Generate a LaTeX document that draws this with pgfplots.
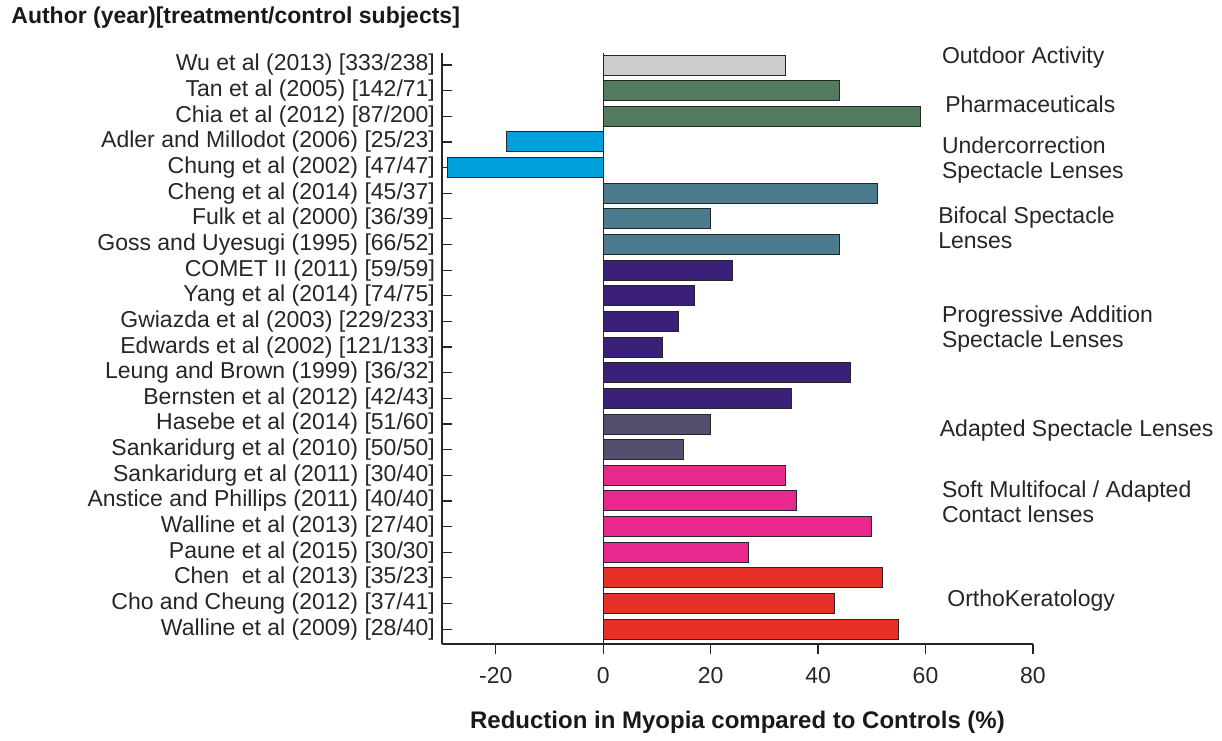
\documentclass[border=0pt]{standalone}
\usepackage{fontspec}
\setmainfont{Liberation Sans}
\usepackage{pgfplots}
\pgfplotsset{compat=1.18}

\definecolor{cOut}{HTML}{CDCDCD}
\definecolor{cPha}{HTML}{527A5C}
\definecolor{cUnd}{HTML}{00A0DC}
\definecolor{cBif}{HTML}{4D7B8E}
\definecolor{cPro}{HTML}{3A2079}
\definecolor{cAda}{HTML}{52506E}
\definecolor{cSof}{HTML}{E8288C}
\definecolor{cOrt}{HTML}{E63028}

\begin{document}
\begin{tikzpicture}
\begin{axis}[
    name=ax,
    scale only axis,
    width=295.5pt, height=295.5pt,
    xbar, bar width=0.78, bar shift=0pt,
    xmin=-30, xmax=80,
    ymin=0.42, ymax=23.47,
    xtick={-20,0,20,40,60,80},
    ytick={1,...,23},
    yticklabels={
        Walline et al (2009) [28/40],
        Cho and Cheung (2012) [37/41],
        Chen\ \ et al (2013) [35/23],
        Paune et al (2015) [30/30],
        Walline et al (2013) [27/40],
        Anstice and Phillips (2011) [40/40],
        Sankaridurg et al (2011) [30/40],
        Sankaridurg et al (2010) [50/50],
        Hasebe et al (2014) [51/60],
        Bernsten et al (2012) [42/43],
        Leung and Brown (1999) [36/32],
        Edwards et al (2002) [121/133],
        Gwiazda et al (2003) [229/233],
        Yang et al (2014) [74/75],
        COMET II (2011) [59/59],
        Goss and Uyesugi (1995) [66/52],
        Fulk et al (2000) [36/39],
        Cheng et al (2014) [45/37],
        Chung et al (2002) [47/47],
        Adler and Millodot (2006) [25/23],
        Chia et al (2012) [87/200],
        Tan et al (2005) [142/71],
        Wu et al (2013) [333/238]},
    axis x line*=bottom, axis y line*=left,
    axis line style={-, black!85, line width=0.6pt},
    tick align=inside, major tick length=5pt,
    xtick style={yshift=-5pt, black!85, line width=0.6pt},
    ytick style={black!85, line width=0.6pt},
    xticklabel style={yshift=-8pt},
    ticklabel style={font=\fontsize{11.5}{13}\selectfont, text=black!85},
    /pgf/number format/assume math mode=true,
    xlabel={Reduction in Myopia compared to Controls (\%)},
    xlabel style={font=\bfseries\fontsize{12}{14}\selectfont, text=black!90,
        at={(axis description cs:0.5,0)}, anchor=center, yshift=-39pt},
    every axis plot/.append style={draw=black!85, line width=0.5pt},
    clip=false,
]
\addplot[fill=cOut] coordinates {(34,23)};
\addplot[fill=cPha] coordinates {(44,22) (59,21)};
\addplot[fill=cUnd] coordinates {(-18,20) (-29,19)};
\addplot[fill=cBif] coordinates {(51,18) (20,17) (44,16)};
\addplot[fill=cPro] coordinates {(24,15) (17,14) (14,13) (11,12) (46,11) (35,10)};
\addplot[fill=cAda] coordinates {(20,9) (15,8)};
\addplot[fill=cSof] coordinates {(34,7) (36,6) (50,5) (27,4)};
\addplot[fill=cOrt] coordinates {(52,3) (43,2) (55,1)};

\draw[black!85, line width=0.6pt] (axis cs:0,0.42) -- (axis cs:0,23.47);

\begin{scope}[every node/.style={anchor=west, inner sep=0pt, align=left,
        font=\fontsize{11.5}{12.5}\selectfont, text=black!85}]
\node at (axis cs:63,23.31) {Outdoor Activity};
\node at (axis cs:63.6,21.48) {Pharmaceuticals};
\node at (axis cs:63,19.31) {Undercorrection\\Spectacle Lenses};
\node at (axis cs:62.3,16.64) {Bifocal Spectacle\\Lenses};
\node at (axis cs:63,12.72) {Progressive Addition\\Spectacle Lenses};
\node at (axis cs:62.6,8.76) {Adapted Spectacle Lenses};
\node at (axis cs:63,5.96) {Soft Multifocal / Adapted\\Contact lenses};
\node at (axis cs:64,2.13) {OrthoKeratology};
\end{scope}
\end{axis}
\node[anchor=west, inner sep=0pt, font=\bfseries\fontsize{11.5}{13}\selectfont, text=black!90]
    at ([shift={(-215.5pt,313pt)}]ax.south west) {Author (year)[treatment/control subjects]};
\path ([shift={(-221pt,-48pt)}]ax.south west) rectangle ([shift={(390pt,322pt)}]ax.south west);
\end{tikzpicture}
\end{document}
